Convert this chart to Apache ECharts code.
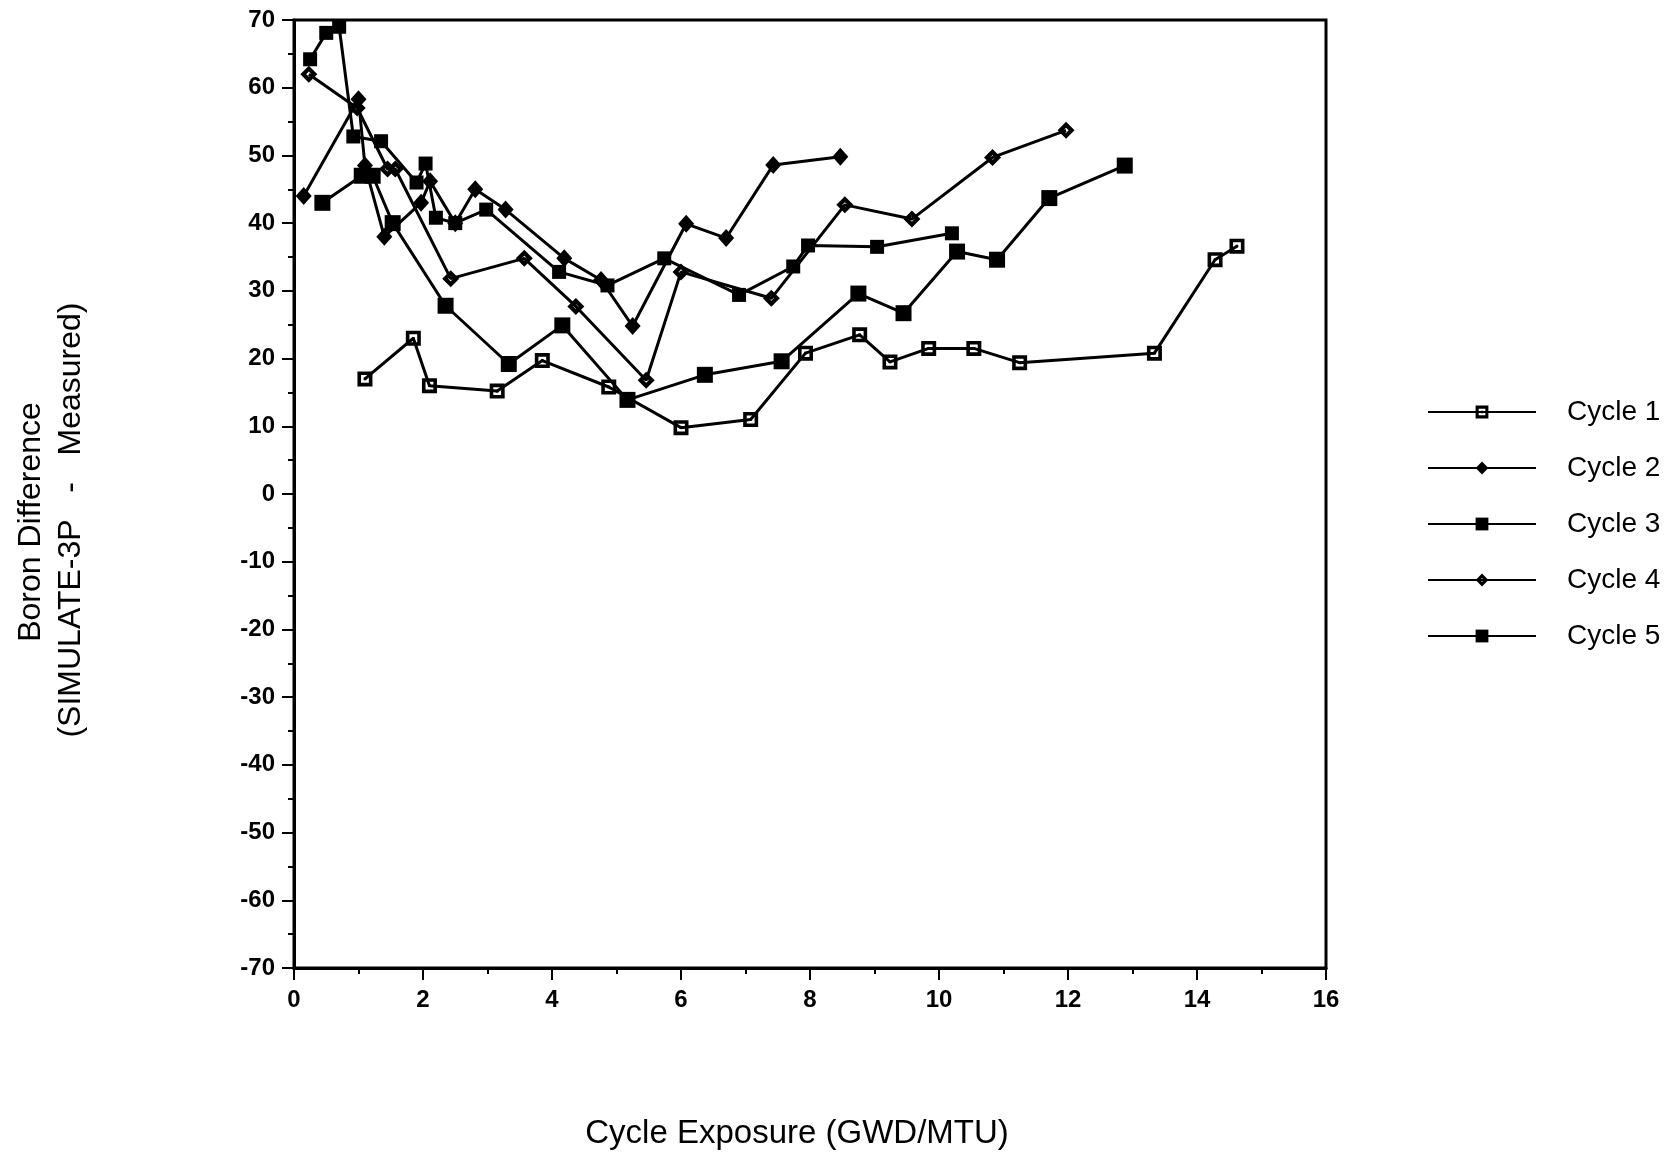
<!DOCTYPE html>
<html>
<head>
<meta charset="utf-8">
<script src="https://cdn.jsdelivr.net/npm/echarts@6/dist/echarts.min.js"></script>
<style>
  html, body { margin: 0; padding: 0; background: #fff; }
  #boron_chart { width: 1677px; height: 1162px; }
</style>
</head>
<body>
<div id="boron_chart"></div>
<script>
  // values
  var cycle1X = [1.10, 1.85, 2.10, 3.15, 3.85, 4.88, 6.00, 7.08, 7.93, 8.77, 9.24, 9.84, 10.54, 11.25, 13.34, 14.28, 14.62];
  var cycle1Y = [17, 23, 16, 15.2, 19.7, 15.8, 9.8, 11, 20.8, 23.5, 19.5, 21.5, 21.5, 19.4, 20.8, 34.6, 36.6];

  var cycle2X = [0.15, 1.00, 1.10, 1.40, 1.97, 2.11, 2.50, 2.81, 3.28, 4.19, 4.76, 5.25, 6.08, 6.70, 7.43, 8.47];
  var cycle2Y = [44, 58.3, 48.5, 38, 43, 46.2, 40, 45, 42, 34.8, 31.6, 24.8, 39.9, 37.8, 48.6, 49.8];

  var cycle3X = [0.25, 0.50, 0.70, 0.92, 1.35, 1.90, 2.04, 2.20, 2.50, 2.98, 4.11, 4.86, 5.74, 6.90, 7.74, 7.97, 9.04, 10.20];
  var cycle3Y = [64.2, 68.1, 69, 52.8, 52.1, 46, 48.8, 40.8, 40, 42, 32.8, 30.8, 34.8, 29.4, 33.6, 36.7, 36.5, 38.5];

  var cycle4X = [0.23, 0.98, 1.45, 1.57, 2.43, 3.57, 4.37, 5.46, 6.00, 7.40, 8.54, 9.58, 10.83, 11.97];
  var cycle4Y = [62, 57, 48, 48, 31.8, 34.8, 27.7, 16.8, 32.8, 28.9, 42.7, 40.6, 49.7, 53.7];

  var cycle5X = [0.44, 1.05, 1.22, 1.53, 2.35, 3.33, 4.16, 5.17, 6.37, 7.56, 8.75, 9.45, 10.28, 10.90, 11.71, 12.88];
  var cycle5Y = [43, 47, 47, 40, 27.8, 19.2, 24.9, 13.9, 17.6, 19.6, 29.6, 26.7, 35.8, 34.6, 43.7, 48.5];

  var seriesNames = ['Cycle 1', 'Cycle 2', 'Cycle 3', 'Cycle 4', 'Cycle 5'];

  // open square with a dot, and a black diamond with a white centre
  var dotSquare = 'path://M0,0 H10 V10 H0 Z M2.4,2.4 V7.6 H7.6 V2.4 Z M4.1,4.1 H5.9 V5.9 H4.1 Z';
  var dotDiamond = 'path://M5,0 L10,5 L5,10 L0,5 Z M5,3.5 L3.5,5 L5,6.5 L6.5,5 Z';

  function pairs(xs, ys) {
    var out = [];
    for (var i = 0; i < xs.length; i++) out.push([xs[i], ys[i]]);
    return out;
  }

  var fontName = '"Liberation Sans", Arial, sans-serif';

  function lineSeries(name, xs, ys, symbol, size) {
    return {
      name: name,
      type: 'line',
      data: pairs(xs, ys),
      symbol: symbol,
      symbolSize: size,
      showAllSymbol: true,
      lineStyle: { color: '#000', width: 3 },
      itemStyle: { color: '#000', borderWidth: 0 },
      z: 3
    };
  }

  var chartDom = document.getElementById('boron_chart');
  var myChart = echarts.init(chartDom, null, { renderer: 'canvas' });

  var option = {
    animation: false,
    backgroundColor: '#fff',
    textStyle: { fontFamily: fontName, color: '#000' },
    grid: {
      left: 294,
      right: 351,
      top: 20,
      bottom: 194,
      show: true,
      borderColor: '#000',
      borderWidth: 3
    },
    legend: {
      orient: 'vertical',
      left: 1422,
      top: 392,
      itemWidth: 108,
      itemHeight: 16,
      itemGap: 26,
      data: seriesNames,
      textStyle: { fontSize: 28, lineHeight: 30, color: '#000', fontFamily: fontName, padding: [0, 0, 0, 26] }
    },
    xAxis: {
      type: 'value',
      min: 0,
      max: 16,
      interval: 2,
      minorTick: { show: true, splitNumber: 2, length: 6, lineStyle: { color: '#000', width: 2 } },
      axisLine: { show: true, onZero: false, lineStyle: { color: '#000', width: 3 } },
      axisTick: { show: true, inside: false, length: 12, lineStyle: { color: '#000', width: 2 } },
      axisLabel: { fontSize: 24, fontWeight: 'bold', color: '#000', margin: 20, fontFamily: fontName },
      splitLine: { show: false }
    },
    yAxis: {
      type: 'value',
      min: -70,
      max: 70,
      interval: 10,
      minorTick: { show: true, splitNumber: 2, length: 6, lineStyle: { color: '#000', width: 2 } },
      axisLine: { show: true, onZero: false, lineStyle: { color: '#000', width: 3 } },
      axisTick: { show: true, inside: false, length: 12, lineStyle: { color: '#000', width: 2 } },
      axisLabel: { fontSize: 24, fontWeight: 'bold', color: '#000', margin: 19, fontFamily: fontName },
      splitLine: { show: false }
    },
    graphic: [
      {
        type: 'text',
        x: 31,
        y: 522,
        rotation: Math.PI / 2,
        style: {
          text: 'Boron Difference',
          font: '32px ' + fontName,
          fill: '#000',
          textAlign: 'center',
          textVerticalAlign: 'middle'
        }
      },
      {
        type: 'text',
        x: 71,
        y: 520,
        rotation: Math.PI / 2,
        style: {
          text: '(SIMULATE-3P   -   Measured)',
          font: '32px ' + fontName,
          fill: '#000',
          textAlign: 'center',
          textVerticalAlign: 'middle'
        }
      },
      {
        type: 'text',
        x: 797,
        y: 1134,
        style: {
          text: 'Cycle Exposure (GWD/MTU)',
          font: '33px ' + fontName,
          fill: '#000',
          textAlign: 'center',
          textVerticalAlign: 'middle'
        }
      }
    ],
    series: [
      lineSeries('Cycle 1', cycle1X, cycle1Y, dotSquare, 15),
      lineSeries('Cycle 2', cycle2X, cycle2Y, 'diamond', [16, 18]),
      lineSeries('Cycle 3', cycle3X, cycle3Y, 'rect', 14),
      lineSeries('Cycle 4', cycle4X, cycle4Y, dotDiamond, 17),
      lineSeries('Cycle 5', cycle5X, cycle5Y, 'rect', 16)
    ]
  };

  myChart.setOption(option);

  window.addEventListener('resize', myChart.resize);
</script>
</body>
</html>
